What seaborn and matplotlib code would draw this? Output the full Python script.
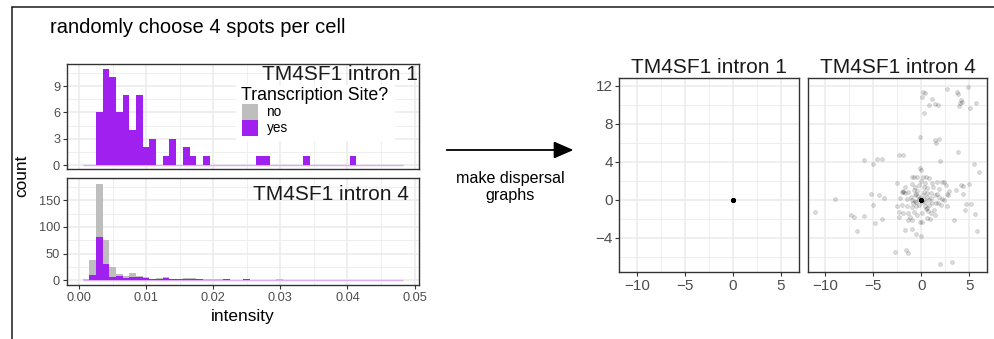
import numpy as np
import pandas as pd
import matplotlib
matplotlib.use("Agg")
import matplotlib.pyplot as plt
import seaborn as sns
from matplotlib.patches import Rectangle, FancyArrowPatch
from matplotlib.lines import Line2D
from matplotlib.ticker import MultipleLocator, FormatStrFormatter

# ---------------- data ----------------
TITLE = "randomly choose 4 spots per cell"
PROBES = ["TM4SF1 intron 1", "TM4SF1 intron 4"]
TS_LEVELS = ["no", "yes"]
TS_COLORS = {"no": "#BEBEBE", "yes": "#A020F0"}
ARROW_TEXT = "make dispersal\ngraphs"

BIN_START = 0.00055
BIN_WIDTH = 0.000995
N_BINS = 48

# counts per intensity bin (stacked histogram)
INTRON1_NO = [0, 0, 0, 0, 0, 0, 0, 0, 0, 0, 0, 0, 0, 0, 0, 0, 0, 0, 0, 0, 0, 0, 0, 0,
              0, 0, 0, 0, 0, 0, 0, 0, 0, 0, 0, 0, 0, 0, 0, 0, 0, 0, 0, 0, 0, 0, 0, 0]
INTRON1_YES = [0, 0, 6, 11, 10, 6, 8, 4, 8, 2, 3, 0, 1, 3, 0, 2, 1, 0, 1, 0, 0, 0, 0, 0,
               0, 0, 1, 1, 0, 0, 0, 0, 0, 1, 0, 0, 0, 0, 0, 0, 1, 0, 0, 0, 0, 0, 0, 0]
INTRON4_NO = [1, 28, 99, 45, 18, 4, 4, 7, 2, 2, 0, 2, 2, 0, 0, 3, 3, 0, 1, 3, 3, 0, 0, 0,
              0, 0, 0, 0, 0, 2, 0, 0, 0, 0, 0, 0, 0, 0, 0, 0, 0, 0, 0, 0, 0, 0, 0, 0]
INTRON4_YES = [1, 10, 81, 31, 7, 8, 5, 7, 6, 4, 3, 3, 4, 3, 3, 2, 2, 3, 1, 0, 0, 3, 1, 0,
               2, 0, 0, 0, 1, 0, 0, 0, 0, 1, 0, 0, 0, 0, 0, 0, 0, 0, 0, 0, 0, 0, 0, 0]

# dispersal: spots relative to the cell's reference spot
ORIGIN_SPOTS_INTRON1 = 60
ORIGIN_SPOTS_INTRON4 = 40
DISP4_X = [0.17, 0.35, 0.07, 1.12, 1.40, 1.74, 0.80, 0.28, 2.72, 3.77, 3.80, 4.12, 4.01, 4.26,
           3.94, 4.88, 5.06, 5.69,
           -0.14, 1.46, 1.81, 1.53, 3.87, 1.95, 5.48, 6.07,
           -5.96, -4.57, -4.08, -4.99, -2.27, -1.88,
           -5.23, -4.39, -3.87, -5.06, -9.00, -11.09, -7.36, -7.01, -5.96, -4.78, -4.05, -6.70,
           -1.64, -0.98, -0.56, -0.03, -2.69, -1.57, -1.33, 1.92, 3.21, 3.45, 4.67, 5.20, 5.65,
           4.60, 5.82,
           4.15, 4.39, 4.95, 3.66, 4.36, 2.69, 2.79,
           -0.14, 0.00, -0.80, -0.98, -0.45, 0.17, 0.52, 0.84, -0.03, 0.42, 1.12, 1.67, 2.20,
           2.34, -2.55, -1.67, -0.98, -0.70, -0.28, 0.24, 0.59, 1.26, 1.81, 2.55, 2.93,
           -1.85, -1.67, -1.33, -0.80, -0.56, 0.59, 1.05, 1.46, 1.88, 2.16, 2.41,
           -2.20, -1.50, -0.98, -0.63, -0.28, 0.28, 0.77, 1.12, 1.74, 2.06, 2.69,
           -2.55, -2.02, -1.50, -0.98, -0.56, 0.35, 0.59, 1.29,
           -2.37, -1.85, -1.33, -0.80, -0.45, 0.07, 0.66, 1.05, -2.37, -1.43, -0.98, -0.17,
           0.07, 0.59, 0.94, 1.46, -1.15,
           -0.30, 0.40, 0.20, -0.50, 0.60, -0.20, 0.30, -0.70, 0.80, -0.40, 0.50, -0.90,
           1.00, -1.10, 0.10, -0.10, -1.90, -2.00, 1.50, 1.70]
DISP4_Y = [11.37, 11.19, 10.84, 10.56, 10.07, 9.96, 9.93, 9.09, 11.61, 11.37, 11.09, 10.49,
           10.14, 10.32, 9.86, 11.89, 9.65, 10.14,
           6.63, 6.28, 6.35, 5.93, 4.98, 4.07, 3.79, 2.88,
           4.18, 4.32, 4.32, 3.79, 4.74, 4.74,
           0.60, 0.53, 0.21, -0.60, 0.07, -1.26, -1.61, -1.82, -1.68, -2.42, -2.04, -3.33,
           -3.16, -3.05, -3.65, -3.86, -5.51, -5.33, -5.65, -6.74, -6.53, -2.14, -0.46, -0.49,
           -1.47, -1.09, -3.33,
           1.51, 1.47, 1.65, 1.05, 0.56, 0.60, 0.49,
           3.30, 3.12, 2.35, 2.35, 2.35, 2.35, 2.42, 2.25, 1.96, 1.79, 1.72, 1.86, 1.86,
           1.89, 1.72, 1.37, 1.65, 1.37, 1.54, 1.37, 1.19, 1.37, 1.16, 1.58, 0.95,
           0.84, 0.74, 0.81, 1.02, 0.60, 0.67, 0.74, 0.49, 0.32, 0.04, -0.04,
           0.14, 0.04, -0.04, -0.11, 0.04, 0.11, -0.04, -0.39, -0.39, -0.60, -0.63,
           -0.63, -0.56, -0.63, -0.74, -0.63, -0.63, -0.91, -1.09,
           -1.33, -1.44, -1.44, -1.26, -1.61, -1.40, -1.23, -1.37, -1.79, -2.14, -2.14, -2.35,
           -2.39, -1.96, -2.07, -1.61, -1.79,
           0.40, -0.30, 0.50, -0.30, 0.30, -0.60, 0.80, 0.50, -0.60, 0.90, -1.00, -0.40,
           0.20, 0.30, -0.30, 0.20, 0.90, 0.80, -0.40, 0.60]

# ---------------- layout helpers ----------------
W, H, DPI = 995, 339, 100
sns.set_theme(style="white")
plt.rcParams["font.family"] = ["Liberation Sans", "DejaVu Sans"]
fig = plt.figure(figsize=(W / DPI, H / DPI), dpi=DPI)
fig.patch.set_facecolor("white")


def fx(px):
    return px / W


def fy(py):
    return 1 - py / H


def add_ax(l, r, t, b):
    return fig.add_axes([l / W, 1 - b / H, (r - l) / W, (b - t) / H])


TICK_C = "#4D4D4D"
BORDER_C = "#333333"
GRID_C = "#EBEBEB"


def style_bw(ax, tick_size):
    ax.set_facecolor("white")
    for s in ax.spines.values():
        s.set_color(BORDER_C)
        s.set_linewidth(1.0)
        s.set_visible(True)
    ax.grid(True, which="major", color=GRID_C, lw=1.1)
    ax.grid(True, which="minor", color=GRID_C, lw=0.55)
    ax.set_axisbelow(True)
    ax.tick_params(which="major", length=2.8, width=0.8, color=BORDER_C,
                   labelcolor=TICK_C, labelsize=tick_size, pad=2,
                   bottom=True, left=True)
    ax.tick_params(which="minor", length=0, bottom=False, left=False)
    ax.set_xlabel("")
    ax.set_ylabel("")


# ---------------- histograms ----------------
edges = BIN_START + BIN_WIDTH * np.arange(N_BINS + 1)
centers = (edges[:-1] + edges[1:]) / 2

hist_specs = [
    (PROBES[0], INTRON1_NO, INTRON1_YES, (64, 169), (-0.456, 11.52), 3, 1.5, 418),
    (PROBES[1], INTRON4_NO, INTRON4_YES, (178.3, 285), (-8.8, 191.25), 50, 25, 408.5),
]
hist_axes = []
for i, (probe, no_c, yes_c, (top, bot), ylim, major, minor, lab_r) in enumerate(hist_specs):
    ax = add_ax(66.7, 419, top, bot)
    df = pd.DataFrame({
        "intensity": np.concatenate([centers, centers]),
        "count": np.concatenate([no_c, yes_c]).astype(float),
        "ts": ["no"] * N_BINS + ["yes"] * N_BINS,
    })
    ax.plot([edges[0], edges[-1]], [0, 0], color="#D9AEF5", lw=1.0, zorder=1,
            solid_capstyle="butt")
    sns.histplot(data=df, x="intensity", weights="count", hue="ts",
                 hue_order=TS_LEVELS, palette=TS_COLORS, multiple="stack",
                 binwidth=BIN_WIDTH, binrange=(float(edges[0]), float(edges[-1])),
                 alpha=1, linewidth=0, legend=False, ax=ax, zorder=2)
    style_bw(ax, 9.2)
    ax.set_xlim(-0.00183, 0.05067)
    ax.set_ylim(*ylim)
    ax.xaxis.set_major_locator(MultipleLocator(0.01))
    ax.xaxis.set_minor_locator(MultipleLocator(0.005))
    ax.xaxis.set_major_formatter(FormatStrFormatter("%.2f"))
    ax.yaxis.set_major_locator(MultipleLocator(major))
    ax.yaxis.set_minor_locator(MultipleLocator(minor))
    if i == 0:
        ax.tick_params(axis="x", which="major", length=0, labelbottom=False)
    fig.text(fx(lab_r), fy(75 if i == 0 else 195), probe, ha="right", va="center",
             fontsize=15, color="#1A1A1A")
    hist_axes.append(ax)

# legend (inside top histogram)
fig.add_artist(Rectangle((fx(236), fy(141)), (395 - 236) / W, (141 - 85) / H,
                         transform=fig.transFigure, facecolor="white", edgecolor="none",
                         zorder=1))
fig.text(fx(241.5), fy(95), "Transcription Site?", ha="left", va="center",
         fontsize=12.8, color="black", zorder=3)
for j, lev in enumerate(TS_LEVELS):
    y0 = 104 + 16 * j
    fig.add_artist(Rectangle((fx(241.7), fy(y0 + 16)), 16 / W, 16 / H,
                             transform=fig.transFigure, facecolor=TS_COLORS[lev],
                             edgecolor="none", zorder=2))
    fig.text(fx(266.5), fy(y0 + 8), lev, ha="left", va="center", fontsize=9.8,
             color="black", zorder=3)

fig.text(fx(243), fy(317), "intensity", ha="center", va="center", fontsize=12.4,
         color="black")
fig.text(fx(22), fy(176), "count", ha="center", va="center", rotation=90,
         fontsize=12.4, color="black")

# ---------------- arrow ----------------
fig.add_artist(FancyArrowPatch((fx(446.7), fy(150)), (fx(573.5), fy(150)),
                               transform=fig.transFigure,
                               arrowstyle="-|>,head_length=12,head_width=5.2",
                               mutation_scale=1, color="black", lw=1.3,
                               shrinkA=0, shrinkB=0))
fig.text(fx(510), fy(187), ARROW_TEXT, ha="center", va="center", fontsize=11.6,
         color="black", linespacing=1.15)

# ---------------- dispersal scatter ----------------
disp = pd.concat([
    pd.DataFrame({"x": [0.0] * ORIGIN_SPOTS_INTRON1, "y": [0.0] * ORIGIN_SPOTS_INTRON1,
                  "probe": PROBES[0]}),
    pd.DataFrame({"x": DISP4_X + [0.0] * ORIGIN_SPOTS_INTRON4,
                  "y": DISP4_Y + [0.0] * ORIGIN_SPOTS_INTRON4, "probe": PROBES[1]}),
], ignore_index=True)


def minus_fmt(v, p):
    return f"{v:.0f}".replace("-", "\u2212")


for i, (l, r) in enumerate([(619.3, 799), (807.7, 987.3)]):
    ax = add_ax(l, r, 78.3, 272.3)
    sub = disp[disp["probe"] == PROBES[i]]
    sns.scatterplot(data=sub, x="x", y="y", color="black", alpha=0.14, s=8,
                    marker="o", edgecolor="black", linewidth=0.5, ax=ax, zorder=3)
    style_bw(ax, 11)
    ax.set_xlim(-11.85, 6.9)
    ax.set_ylim(-7.65, 12.77)
    ax.xaxis.set_major_locator(MultipleLocator(5))
    ax.xaxis.set_minor_locator(MultipleLocator(2.5))
    ax.yaxis.set_major_locator(MultipleLocator(4))
    ax.yaxis.set_minor_locator(MultipleLocator(2))
    ax.xaxis.set_major_formatter(plt.FuncFormatter(minus_fmt))
    ax.yaxis.set_major_formatter(plt.FuncFormatter(minus_fmt))
    if i == 1:
        ax.tick_params(axis="y", which="major", length=0, labelleft=False)
    ax.set_title(PROBES[i], fontsize=15, color="#1A1A1A", pad=4)

# ---------------- frame + title ----------------
fig.add_artist(Line2D([fx(12), fx(12)], [0, fy(6.7)], transform=fig.transFigure,
                      color="#1A1A1A", lw=1.1))
fig.add_artist(Line2D([fx(12), 1], [fy(6.7), fy(6.7)], transform=fig.transFigure,
                      color="#1A1A1A", lw=1.1))
fig.text(fx(50), fy(27.5), TITLE, ha="left", va="center", fontsize=14.5, color="black")

fig.savefig("out.png", dpi=DPI, facecolor="white")
